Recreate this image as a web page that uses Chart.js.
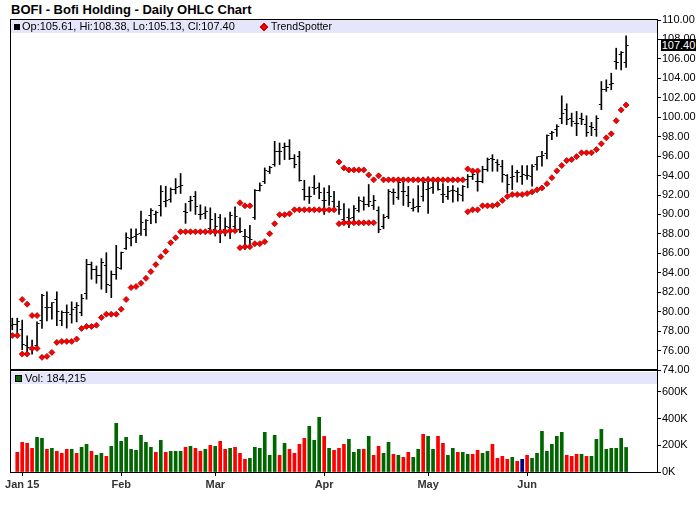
<!DOCTYPE html>
<html>
<head>
<meta charset="utf-8">
<script src="https://cdn.jsdelivr.net/npm/chart.js@4.4.1/dist/chart.umd.min.js"></script>
<style>
  body { margin: 0; background: #fff; width: 700px; height: 512px; overflow: hidden; position: relative; font-family: "Liberation Sans", Arial, sans-serif; }
  canvas { position: absolute; left: 0; }
  .abs { position: absolute; white-space: nowrap; }
</style>
</head>
<body>
<div class="abs" style="left:11px;top:2px;font-weight:bold;font-size:13px;line-height:16px;">BOFI - Bofi Holding - Daily OHLC Chart</div>
<div class="abs" style="left:11px;top:20px;width:646px;height:13px;background:#e6e6fa;"></div>
<div class="abs" style="left:11px;top:372px;width:646px;height:12px;background:#e6e6fa;"></div>
<div class="abs" style="left:10px;top:19px;width:648px;height:454px;border:1px solid #000;box-sizing:border-box;"></div>
<div class="abs" style="left:10px;top:369px;width:648px;height:2px;background:#000;"></div>
<canvas id="priceChart" width="700" height="382" style="top:0;"></canvas>
<canvas id="volChart" width="700" height="150" style="top:362px;"></canvas>
<div class="abs" style="left:14px;top:24px;width:6px;height:6px;background:#000;"></div>
<div class="abs" id="ohlcText" style="left:22px;top:20px;font-size:11px;line-height:13px;"></div>
<div class="abs" style="left:261px;top:24px;width:4px;height:4px;background:#f00;border:0.5px solid #a00;transform:rotate(45deg);"></div>
<div class="abs" style="left:271px;top:20px;font-size:10.5px;line-height:13px;">TrendSpotter</div>
<div class="abs" style="left:15px;top:375px;width:5px;height:5px;background:#006600;border:1px solid #000;"></div>
<div class="abs" id="volText" style="left:25px;top:372px;font-size:11px;line-height:12px;"></div>
<div class="abs" id="lastBox" style="left:661px;top:39px;width:35px;height:12px;background:#000;color:#fff;font-size:11px;line-height:12px;text-align:center;"></div>
<script>
// month ticks on the date axis (bar index of the first trading day)
var monthTickIdx = [2, 22, 41, 63, 84, 104];
var monthTickLabels = ["Jan 15", "Feb", "Mar", "Apr", "May", "Jun"];

// daily OHLC, Dec 30 2014 .. Jun 29 2015
var opens = [78.54, 78.72, 78.20, 76.49, 76.15, 76.56, 79.06, 80.43, 80.43, 81.28,
  79.06, 79.91, 79.74, 80.43, 79.91, 81.90, 84.87, 84.29, 83.67, 84.70,
  82.65, 83.84, 84.43, 86.48, 87.54, 87.78, 88.05, 88.46, 89.90, 90.00,
  90.92, 91.37, 91.54, 92.56, 92.84, 90.34, 91.37, 91.81, 90.00, 90.10,
  88.53, 88.46, 89.66, 88.46, 88.63, 88.74, 88.46, 87.78, 87.67, 89.66,
  92.50, 93.42, 94.45, 95.13, 96.43, 96.84, 97.00, 95.71, 95.92, 92.56,
  91.88, 92.74, 92.74, 91.47, 92.22, 91.37, 90.79, 89.49, 89.66, 89.66,
  90.44, 91.37, 91.03, 90.92, 90.44, 88.80, 89.76, 92.29, 91.71, 92.39,
  91.95, 90.58, 90.79, 91.81, 92.56, 92.74, 93.42, 92.05, 91.81, 92.50,
  92.39, 91.95, 93.59, 93.93, 93.42, 93.42, 94.62, 95.71, 95.30, 94.89,
  94.00, 93.76, 94.27, 93.93, 94.00, 93.93, 95.13, 95.98, 96.25, 98.31,
  98.72, 99.91, 100.77, 99.91, 99.33, 99.91, 99.23, 99.06, 98.72, 101.28,
  102.89, 103.33, 105.73, 106.41, 105.61];
var highs = [79.33, 79.33, 79.13, 77.52, 77.07, 78.95, 81.79, 82.03, 80.94, 82.03,
  80.08, 80.70, 81.01, 80.94, 81.79, 85.38, 85.11, 84.70, 85.45, 86.07,
  84.19, 86.82, 86.13, 88.12, 88.53, 88.53, 90.34, 89.48, 90.61, 90.34,
  92.97, 92.90, 92.73, 93.69, 94.21, 91.13, 91.88, 92.36, 90.99, 90.79,
  90.68, 90.10, 90.00, 89.66, 90.24, 90.79, 89.66, 88.46, 88.87, 92.56,
  93.24, 94.79, 94.96, 97.52, 97.35, 97.35, 97.69, 96.15, 96.49, 93.52,
  92.84, 94.00, 93.24, 92.74, 92.97, 92.39, 91.37, 91.13, 90.58, 90.92,
  91.81, 91.81, 93.08, 91.95, 90.79, 90.00, 92.56, 92.63, 93.66, 93.76,
  92.90, 91.61, 92.97, 93.76, 93.86, 93.76, 93.76, 93.18, 92.90, 92.97,
  92.73, 92.97, 94.10, 94.44, 94.62, 94.96, 95.81, 96.15, 95.64, 95.57,
  94.10, 95.03, 94.55, 95.03, 95.03, 95.13, 95.92, 96.49, 98.20, 98.55,
  99.23, 102.20, 101.38, 100.42, 100.60, 100.42, 100.15, 99.47, 100.15, 103.67,
  103.85, 104.53, 107.10, 106.75, 108.38];
var lows = [78.13, 77.69, 76.08, 75.81, 75.64, 76.15, 78.27, 79.06, 79.23, 78.55,
  78.55, 78.31, 78.82, 78.95, 79.57, 81.28, 83.33, 82.92, 82.31, 81.96,
  81.45, 83.33, 84.36, 86.41, 86.75, 87.09, 87.84, 87.78, 89.04, 89.14,
  89.83, 90.78, 91.26, 92.12, 92.16, 89.08, 90.34, 90.00, 89.49, 89.56,
  88.40, 87.78, 87.09, 87.78, 87.50, 88.46, 88.12, 86.41, 86.75, 89.49,
  92.40, 93.18, 94.21, 94.96, 95.13, 95.64, 95.64, 94.79, 93.42, 91.47,
  91.13, 92.05, 91.61, 90.00, 90.92, 90.34, 90.00, 88.97, 88.63, 89.14,
  90.24, 90.44, 90.79, 90.51, 88.12, 88.53, 89.56, 91.03, 91.54, 90.92,
  90.79, 90.34, 90.24, 91.37, 90.10, 92.15, 92.50, 91.20, 91.54, 91.27,
  91.37, 91.37, 92.74, 93.59, 92.39, 93.25, 94.44, 94.44, 94.44, 93.32,
  92.22, 92.56, 93.32, 93.08, 93.59, 92.90, 94.55, 94.96, 95.71, 97.69,
  98.03, 99.33, 99.23, 99.06, 98.10, 99.23, 98.03, 98.10, 98.03, 100.77,
  102.65, 102.82, 104.94, 104.87, 105.13];
var closes = [78.72, 78.95, 76.60, 76.32, 76.32, 78.82, 81.70, 80.43, 80.90, 79.98,
  79.91, 79.91, 80.25, 80.60, 81.35, 84.87, 84.29, 83.74, 85.04, 82.82,
  83.84, 84.53, 86.07, 87.60, 87.67, 87.95, 89.14, 89.38, 90.41, 90.24,
  92.32, 91.47, 92.56, 92.73, 92.97, 90.20, 91.44, 90.85, 90.00, 90.34,
  89.49, 88.74, 88.29, 88.74, 89.90, 89.76, 88.20, 87.78, 87.44, 92.50,
  93.00, 94.55, 94.79, 96.43, 96.43, 96.94, 95.71, 95.13, 93.52, 91.81,
  91.88, 92.63, 92.22, 91.47, 91.88, 90.51, 90.51, 89.32, 89.56, 90.58,
  91.47, 91.03, 91.37, 91.47, 88.46, 89.66, 92.39, 92.22, 93.32, 92.39,
  91.20, 90.68, 90.79, 93.25, 92.63, 93.59, 92.56, 92.05, 92.39, 92.50,
  92.05, 92.90, 93.86, 94.10, 93.42, 94.62, 95.64, 95.64, 95.13, 94.10,
  93.08, 93.93, 94.34, 94.10, 94.00, 94.96, 95.92, 96.05, 98.10, 98.44,
  99.06, 100.42, 99.81, 99.57, 99.40, 99.81, 98.44, 98.99, 99.91, 102.82,
  103.09, 103.50, 105.62, 106.65, 107.40];

// TrendSpotter stop, one per bar
var trend = [77.55, 77.55, 75.64, 75.64, 76.22, 76.22, 75.30, 75.40, 75.81, 76.84,
  76.94, 76.94, 76.94, 77.18, 78.27, 78.48, 78.48, 78.61, 79.40, 79.74,
  79.74, 79.74, 80.25, 81.25, 82.48, 82.58, 82.92, 83.43, 84.12, 84.84,
  85.66, 86.20, 87.09, 87.60, 88.22, 88.22, 88.22, 88.22, 88.22, 88.22,
  88.22, 88.22, 88.22, 88.22, 88.33, 88.33, 86.58, 86.68, 86.68, 86.99,
  86.99, 87.20, 88.02, 89.04, 89.97, 89.97, 90.07, 90.48, 90.48, 90.48,
  90.48, 90.48, 90.48, 90.48, 90.48, 90.48, 89.04, 89.14, 89.14, 89.14,
  89.14, 89.14, 89.14, 89.14, 93.97, 93.56, 93.56, 93.56, 93.56, 93.56,
  93.56, 93.56, 93.56, 93.56, 93.56, 93.56, 93.56, 93.56, 93.56, 93.56,
  93.56, 93.56, 90.27, 90.48, 90.48, 90.89, 90.89, 90.89, 91.03, 91.44,
  91.85, 92.05, 92.05, 92.05, 92.15, 92.32, 92.53, 92.72, 93.16, 93.78,
  94.48, 95.03, 95.54, 95.64, 95.95, 96.34, 96.34, 96.34, 96.67, 97.26,
  97.88, 98.29, 99.64, 100.75, 101.26];
// second TrendSpotter dot on the days where two are shown
var trendAlt = [null, null, 81.25, 80.77, 79.60, 79.60, null, null, null, null,
  null, null, null, null, null, null, null, null, null, null,
  null, null, null, null, null, null, null, null, null, null,
  null, null, null, null, null, null, null, null, null, null,
  null, null, null, null, null, null, 91.20, 90.89, 90.89, null,
  null, null, null, null, null, null, null, null, null, null,
  null, null, null, null, null, null, 95.40, 94.79, 94.58, 94.58,
  94.58, 94.58, 94.07, 93.56, null, null, null, null, null, null,
  null, null, null, null, null, null, null, null, null, null,
  null, null, 94.68, 94.48, 94.48, null, null, null, null, null,
  null, null, null, null, null, null, null, null, null, null,
  null, null, null, null, null, null, null, null, null, null,
  null, null, null, null, null];

// volume in thousands of shares, and direction (1 up, -1 down, 0 unchanged)
var volumes = [null, 147.5, 222.5, 215, 177.5, 260, 252.5, 170, 177.5, 155,
  140, 170, 170, 140, 185, 207.5, 155, 125, 140, 117.5,
  192.5, 365, 230, 260, 170, 162.5, 275, 222.5, 185, 147.5,
  237.5, 147.5, 155, 155, 155, 185, 192.5, 177.5, 155, 170,
  200, 192.5, 230, 170, 177.5, 185, 140, 95, 102.5, 185,
  177.5, 297.5, 125, 275, 125, 215, 170, 140, 207.5, 252.5,
  342.5, 237.5, 410, 267.5, 177.5, 162.5, 177.5, 207.5, 245, 147.5,
  170, 170, 267.5, 125, 192.5, 140, 222.5, 132.5, 125, 110,
  147.5, 110, 170, 282.5, 267.5, 170, 267.5, 215, 125, 177.5,
  147.5, 147.5, 132.5, 132.5, 162.5, 140, 155, 207.5, 102.5, 117.5,
  95, 110, 80, 95, 125, 102.5, 140, 305, 155, 207.5,
  267.5, 297.5, 125, 117.5, 132.5, 132.5, 117.5, 117.5, 245, 320,
  170, 177.5, 177.5, 252.5, 184.215];
var volDir = [0, -1, -1, -1, -1, 1, 1, -1, 1, -1,
  -1, -1, 1, -1, 1, 1, -1, 1, 1, -1,
  1, 1, 1, 1, 1, 1, 1, 1, 1, -1,
  1, -1, 1, 1, 1, -1, 1, -1, -1, 1,
  -1, 1, -1, -1, 1, -1, -1, -1, 1, 1,
  1, 1, 1, 1, -1, 1, -1, -1, -1, -1,
  1, 1, 1, -1, 1, -1, -1, -1, 1, 1,
  1, -1, 1, -1, -1, 1, 1, -1, 1, -1,
  -1, 1, 1, -1, 1, 1, -1, -1, 1, 1,
  -1, 1, 1, -1, -1, 1, 1, -1, -1, -1,
  -1, 1, -1, 0, -1, 1, 1, 1, 1, 1,
  1, 1, -1, -1, -1, 1, -1, 1, 1, 1,
  1, 1, 1, 1, 1];

var priceTicksFont = { family: "Liberation Sans, Arial, sans-serif", size: 11 };
var xMin = -0.26, xMax = 130.24;
var last = closes.length - 1;

// legend texts
document.getElementById("ohlcText").textContent =
  "Op:" + opens[last].toFixed(2) + ", Hi:" + highs[last].toFixed(2) +
  ", Lo:" + lows[last].toFixed(2) + ", Cl:" + closes[last].toFixed(2);
document.getElementById("volText").textContent =
  "Vol: " + Math.round(volumes[last] * 1000).toLocaleString("en-US");
document.getElementById("lastBox").textContent = closes[last].toFixed(2);

// small open / close tick images used as point styles
function tickImage(isOpen) {
  var c = document.createElement("canvas");
  c.width = 7;
  c.height = 1;
  var g = c.getContext("2d");
  g.fillStyle = "#000";
  g.fillRect(isOpen ? 1 : 4, 0, 2, 1);
  return c;
}
var openImg = tickImage(true);
var closeImg = tickImage(false);

function pts(arr) {
  return arr.map(function (v, i) { return { x: i, y: v }; });
}

Chart.defaults.animation = false;
Chart.defaults.devicePixelRatio = 1;

var priceChart = new Chart(document.getElementById("priceChart"), {
  type: "bar",
  data: {
    datasets: [{
      type: "bar",
      data: highs.map(function (h, i) { return { x: i, y: [lows[i], h] }; }),
      backgroundColor: "#000",
      barThickness: 1,
      grouped: false,
      order: 2
    }, {
      type: "line",
      data: pts(opens),
      showLine: false,
      pointStyle: openImg,
      pointRadius: 2,
      order: 1
    }, {
      type: "line",
      data: pts(closes),
      showLine: false,
      pointStyle: closeImg,
      pointRadius: 2,
      order: 1
    }, {
      type: "line",
      data: pts(trend),
      showLine: false,
      pointStyle: "rectRot",
      pointRadius: 3,
      pointBackgroundColor: "#ff0000",
      pointBorderColor: "#a00000",
      pointBorderWidth: 0.8,
      order: 0
    }, {
      type: "line",
      data: pts(trendAlt),
      showLine: false,
      pointStyle: "rectRot",
      pointRadius: 3,
      pointBackgroundColor: "#ff0000",
      pointBorderColor: "#a00000",
      pointBorderWidth: 0.8,
      order: 0
    }]
  },
  options: {
    responsive: false,
    layout: { padding: { top: 20, left: 11, right: 0, bottom: 12 } },
    plugins: { legend: { display: false }, tooltip: { enabled: false } },
    scales: {
      x: {
        type: "linear",
        min: xMin,
        max: xMax,
        offset: false,
        display: false,
        grid: { offset: false }
      },
      y: {
        position: "right",
        min: 74,
        max: 110,
        afterFit: function (scale) { scale.width = 43; },
        ticks: {
          stepSize: 2,
          color: "#000",
          font: priceTicksFont,
          padding: 1,
          callback: function (v) { return v.toFixed(2); }
        },
        grid: { drawOnChartArea: false, tickLength: 4, color: "#000" },
        border: { color: "#000", width: 1 }
      }
    }
  }
});

var volChart = new Chart(document.getElementById("volChart"), {
  type: "bar",
  data: {
    datasets: [{
      data: pts(volumes),
      backgroundColor: volDir.map(function (d) {
        return d > 0 ? "#006600" : (d < 0 ? "#ff0000" : "#000080");
      }),
      barThickness: 3
    }]
  },
  options: {
    responsive: false,
    layout: { padding: { top: 10, left: 11, right: 0, bottom: 8 } },
    plugins: { legend: { display: false }, tooltip: { enabled: false } },
    scales: {
      x: {
        type: "linear",
        min: xMin,
        max: xMax,
        offset: false,
        afterFit: function (scale) { scale.height = 32; },
        afterBuildTicks: function (scale) {
          scale.ticks = monthTickIdx.map(function (v) { return { value: v }; });
        },
        ticks: {
          autoSkip: false,
          maxRotation: 0,
          color: "#333",
          padding: 2,
          font: { family: "Liberation Sans, Arial, sans-serif", size: 11, weight: "bold" },
          callback: function (v) {
            var k = monthTickIdx.indexOf(v);
            return k >= 0 ? monthTickLabels[k] : "";
          }
        },
        grid: { drawOnChartArea: false, offset: false, tickLength: 4, color: "#000" },
        border: { color: "#000", width: 1 }
      },
      y: {
        position: "right",
        min: 0,
        max: 750,
        afterFit: function (scale) { scale.width = 43; },
        afterBuildTicks: function (scale) {
          scale.ticks = [0, 200, 400, 600].map(function (v) { return { value: v }; });
        },
        ticks: {
          color: "#000",
          font: priceTicksFont,
          padding: 1,
          callback: function (v) { return v + "K"; }
        },
        grid: { drawOnChartArea: false, tickLength: 4, color: "#000" },
        border: { color: "#000", width: 1 }
      }
    }
  }
});
</script>
</body>
</html>
